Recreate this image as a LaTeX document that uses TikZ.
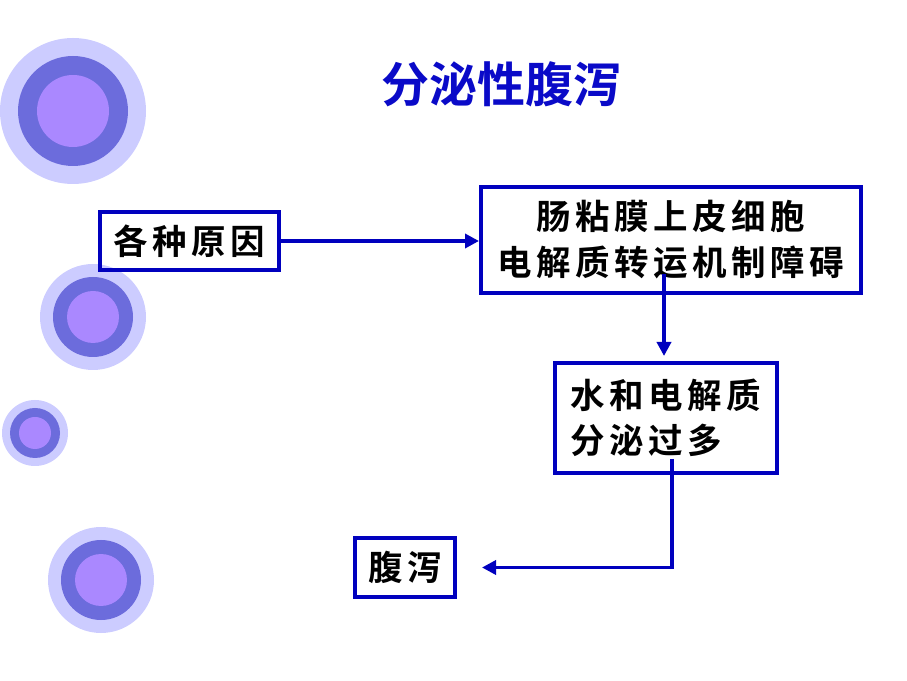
\documentclass[tikz,border=0pt]{standalone}
\usepackage{fontspec}
\newfontfamily\cjk{Noto Sans CJK SC}[BoldFont={Noto Sans CJK SC Bold}]
\usetikzlibrary{arrows.meta,calc}
\definecolor{ringout}{RGB}{204,204,255}
\definecolor{ringmid}{RGB}{108,108,220}
\definecolor{ringin}{RGB}{170,136,255}
\definecolor{boxblue}{RGB}{0,0,190}
\definecolor{titleblue}{RGB}{10,10,200}
\newcommand\gap{\kern4.5pt}
\tikzset{
  flowbox/.style={draw=boxblue,line width=4pt,rectangle,inner sep=0pt,
    font=\cjk\bfseries\fontsize{34.5}{46}\selectfont,text=black},
  conn/.style={draw=boxblue,line width=3.5pt,-{Triangle[length=14pt,width=14pt]}}
}
\begin{document}
\begin{tikzpicture}[x=1pt,y=1pt]
\useasboundingbox (0,0) rectangle (907,680);
% decorative rings
\fill[ringout] (73,569) circle (73);
\fill[ringmid] (73,569) circle (55);
\fill[ringin] (73,569) circle (36);
\fill[ringout] (93,363) circle (53);
\fill[ringmid] (93,363) circle (40);
\fill[ringin] (93,363) circle (26);
\fill[ringout] (35,247) circle (33);
\fill[ringmid] (35,247) circle (25);
\fill[ringin] (35,247) circle (16);
\fill[ringout] (101,100) circle (53);
\fill[ringmid] (101,100) circle (40);
\fill[ringin] (101,100) circle (26);
% title
\node[font=\cjk\bfseries\fontsize{48}{52}\selectfont,text=titleblue] (title) at (501,596) {分泌性腹泻};
% boxes
\node[flowbox,minimum width=179pt,minimum height=58pt] (A) at (189.5,439) {各\gap 种\gap 原\gap 因};
\node[flowbox,minimum width=380pt,minimum height=106pt,align=center] (B) at (671,440)
  {肠\gap 粘\gap 膜\gap 上\gap 皮\gap 细\gap 胞\\电\gap 解\gap 质\gap 转\gap 运\gap 机\gap 制\gap 障\gap 碍};
\node[flowbox,minimum width=222pt,minimum height=110pt,align=left,font=\cjk\bfseries\fontsize{34.5}{45}\selectfont] (C) at (666,262)
  {水\gap 和\gap 电\gap 解\gap 质\\分\gap 泌\gap 过\gap 多};
\node[flowbox,minimum width=100pt,minimum height=59pt] (D) at (405,112.5) {腹\gap 泻};
% connectors
\draw[conn] (A.east) -- (A.east -| B.west);
\coordinate (b1) at ($(B.south)+(-7,21)$);
\coordinate (c0) at ($(C.north)+(0,5)$);
\draw[conn] (b1) -- (b1 |- c0);
\coordinate (c1) at ($(C.south)+(6,16)$);
\coordinate (d0) at ($(D.east)+(25,0)$);
\draw[conn] (c1) |- (d0);
\end{tikzpicture}
\end{document}
